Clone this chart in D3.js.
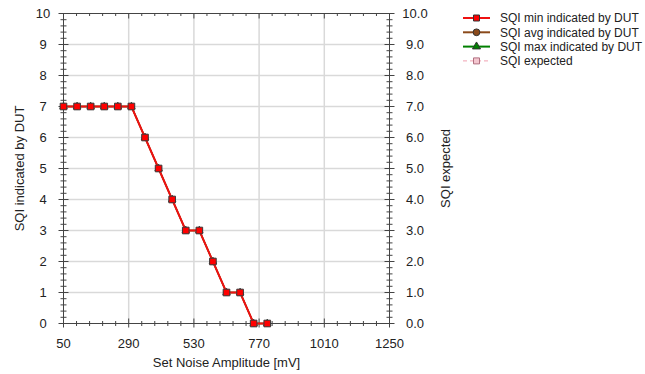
<!DOCTYPE html>
<html>
<head>
<meta charset="utf-8">
<script src="https://cdn.jsdelivr.net/npm/d3@7/dist/d3.min.js"></script>
<style>
  html, body { margin: 0; padding: 0; background: #fff; }
  svg { display: block; font-family: "Liberation Sans", Arial, sans-serif; }
</style>
</head>
<body>
<svg id="chart" width="645" height="374"></svg>
<script>
// Noise amplitude steps (mV) and the SQI read back from the device
const noiseAmplitude = [50, 100, 150, 200, 250, 300, 350, 400, 450, 500, 550, 600, 650, 700, 750, 800];
const sqiMin = [7, 7, 7, 7, 7, 7, 6, 5, 4, 3, 3, 2, 1, 1, 0, 0];
const sqiAvg = [7, 7, 7, 7, 7, 7, 6, 5, 4, 3, 3, 2, 1, 1, 0, 0];
const sqiMax = [7, 7, 7, 7, 7, 7, 6, 5, 4, 3, 3, 2, 1, 1, 0, 0];
const sqiExpected = [];

const xTicks = [50, 290, 530, 770, 1010, 1250];
const yTicksLeft = [0, 1, 2, 3, 4, 5, 6, 7, 8, 9, 10];
const yTicksRight = ["0.0", "1.0", "2.0", "3.0", "4.0", "5.0", "6.0", "7.0", "8.0", "9.0", "10.0"];

const legendLabels = [
  "SQI min indicated by DUT",
  "SQI avg indicated by DUT",
  "SQI max indicated by DUT",
  "SQI expected"
];

const svg = d3.select("#chart");
const x = d3.scaleLinear().domain([50, 1250]).range([63.5, 389.5]);
const y = d3.scaleLinear().domain([0, 10]).range([323.5, 13.5]);
const yR = d3.scaleLinear().domain([0, 10]).range([323.5, 13.5]);

const axisColor = "#444";
const textColor = "#222";
const gridColor = "#d9d9d9";

// grid
const grid = svg.append("g");
grid.selectAll(".gx").data(xTicks.slice(1, -1)).join("line")
  .attr("x1", d => x(d)).attr("x2", d => x(d))
  .attr("y1", y(0)).attr("y2", y(10))
  .attr("stroke", gridColor).attr("stroke-width", 1.5);
grid.selectAll(".gy").data(yTicksLeft.slice(1, -1)).join("line")
  .attr("x1", x(50)).attr("x2", x(1250))
  .attr("y1", d => y(d)).attr("y2", d => y(d))
  .attr("stroke", gridColor).attr("stroke-width", 1.5);

// minor tick positions derived from the scales
const xMinor = d3.range(50, 1250.001, 48).filter(v => !xTicks.includes(Math.round(v)));
const yMinor = d3.range(0, 10.0001, 0.2).filter(v => Math.abs(v - Math.round(v)) > 1e-6);

const ax = svg.append("g").attr("stroke", axisColor).attr("stroke-width", 1);
// frame lines
ax.append("line").attr("x1", x(50)).attr("x2", x(1250)).attr("y1", y(0)).attr("y2", y(0));
ax.append("line").attr("x1", x(50)).attr("x2", x(1250)).attr("y1", y(10)).attr("y2", y(10));
ax.append("line").attr("x1", x(50)).attr("x2", x(50)).attr("y1", y(0)).attr("y2", y(10));
ax.append("line").attr("x1", x(1250)).attr("x2", x(1250)).attr("y1", y(0)).attr("y2", y(10));

// bottom axis ticks (crossing)
ax.selectAll(".bt").data(xTicks).join("line")
  .attr("x1", d => x(d)).attr("x2", d => x(d))
  .attr("y1", y(0) - 5).attr("y2", y(0) + 4);
ax.selectAll(".bm").data(xMinor).join("line")
  .attr("x1", d => x(d)).attr("x2", d => x(d))
  .attr("y1", y(0) - 2.5).attr("y2", y(0) + 2.5);
// top axis ticks (inward)
ax.selectAll(".tt").data(xTicks).join("line")
  .attr("x1", d => x(d)).attr("x2", d => x(d))
  .attr("y1", y(10)).attr("y2", y(10) + 5);
ax.selectAll(".tm").data(xMinor).join("line")
  .attr("x1", d => x(d)).attr("x2", d => x(d))
  .attr("y1", y(10)).attr("y2", y(10) + 2.5);
// left axis ticks (crossing)
ax.selectAll(".lt").data(yTicksLeft).join("line")
  .attr("x1", x(50) - 5).attr("x2", x(50) + 5)
  .attr("y1", d => y(d)).attr("y2", d => y(d));
ax.selectAll(".lm").data(yMinor).join("line")
  .attr("x1", x(50) - 3).attr("x2", x(50) + 3)
  .attr("y1", d => y(d)).attr("y2", d => y(d));
// right axis ticks (crossing)
ax.selectAll(".rt").data(yTicksRight).join("line")
  .attr("x1", x(1250) - 5).attr("x2", x(1250) + 5)
  .attr("y1", d => yR(+d)).attr("y2", d => yR(+d));
ax.selectAll(".rm").data(yMinor).join("line")
  .attr("x1", x(1250) - 3).attr("x2", x(1250) + 3)
  .attr("y1", d => yR(d)).attr("y2", d => yR(d));

// tick labels
const lab = svg.append("g").attr("fill", textColor).attr("font-size", 13);
lab.selectAll(".xl").data(xTicks).join("text")
  .attr("x", d => x(d)).attr("y", 348)
  .attr("text-anchor", "middle").text(d => d);
lab.selectAll(".yl").data(yTicksLeft).join("text")
  .attr("x", 43).attr("y", d => y(d)).attr("dy", "0.35em")
  .attr("text-anchor", "middle").text(d => d);
lab.selectAll(".yr").data(yTicksRight).join("text")
  .attr("x", 415).attr("y", d => yR(+d)).attr("dy", "0.35em")
  .attr("text-anchor", "middle").text(d => d);

// axis titles
lab.append("text").attr("x", x(650)).attr("y", 367)
  .attr("text-anchor", "middle").text("Set Noise Amplitude [mV]");
lab.append("text")
  .attr("transform", `translate(24,${y(5)}) rotate(-90)`)
  .attr("text-anchor", "middle").text("SQI indicated by DUT");
lab.append("text")
  .attr("transform", `translate(450,${y(5)}) rotate(-90)`)
  .attr("text-anchor", "middle").text("SQI expected");

// series: max and avg first, min drawn on top
const styles = [
  { data: sqiMax, color: "#008000", marker: "triangle", fill: "#008000", w: 1.5 },
  { data: sqiAvg, color: "#8b4a1a", marker: "circle", fill: "#8b4a1a", w: 1.5 },
  { data: sqiMin, color: "#ee1111", marker: "square", fill: "#ff0000", w: 2 }
];
const line = d3.line().x(d => x(d[0])).y(d => y(d[1]));
const symType = { square: d3.symbolSquare, circle: d3.symbolCircle, triangle: d3.symbolTriangle };

const plot = svg.append("g");
styles.forEach(s => {
  const pts = noiseAmplitude.map((v, i) => [v, s.data[i]]);
  plot.append("path").datum(pts)
    .attr("d", line).attr("fill", "none")
    .attr("stroke", s.color).attr("stroke-width", s.w);
  plot.selectAll(null).data(pts).join("path")
    .attr("transform", d => `translate(${x(d[0])},${y(d[1])})`)
    .attr("d", d3.symbol().type(symType[s.marker]).size(s.marker === "square" ? 44 : 24))
    .attr("fill", s.fill).attr("stroke", "#3a3a3a").attr("stroke-width", 1);
});

// legend
const legendItems = [
  { label: legendLabels[0], color: "#ee1111", fill: "#ff0000", marker: "square", dash: null },
  { label: legendLabels[1], color: "#8b4a1a", fill: "#8b4a1a", marker: "circle", dash: null },
  { label: legendLabels[2], color: "#008000", fill: "#008000", marker: "triangle", dash: null },
  { label: legendLabels[3], color: "#f0a0b0", fill: "#f4c6cf", marker: "square", dash: "4,3" }
];
const lg = svg.append("g").attr("transform", "translate(463,18)");
legendItems.forEach((it, i) => {
  const g = lg.append("g").attr("transform", `translate(0,${i * 14.3})`);
  g.append("line").attr("x1", 0).attr("x2", 27).attr("y1", 0).attr("y2", 0)
    .attr("stroke", it.color).attr("stroke-width", it.dash ? 1 : 2)
    .attr("stroke-dasharray", it.dash);
  g.append("path").attr("transform", "translate(13.5,0)")
    .attr("d", d3.symbol().type(symType[it.marker]).size(it.marker === "triangle" ? 28 : 36))
    .attr("fill", it.fill)
    .attr("stroke", it.dash ? "#b07080" : "#333").attr("stroke-width", 1);
  g.append("text").attr("x", 37).attr("y", 0).attr("dy", "0.35em")
    .attr("font-size", 12).attr("fill", textColor).text(it.label);
});
</script>
</body>
</html>
